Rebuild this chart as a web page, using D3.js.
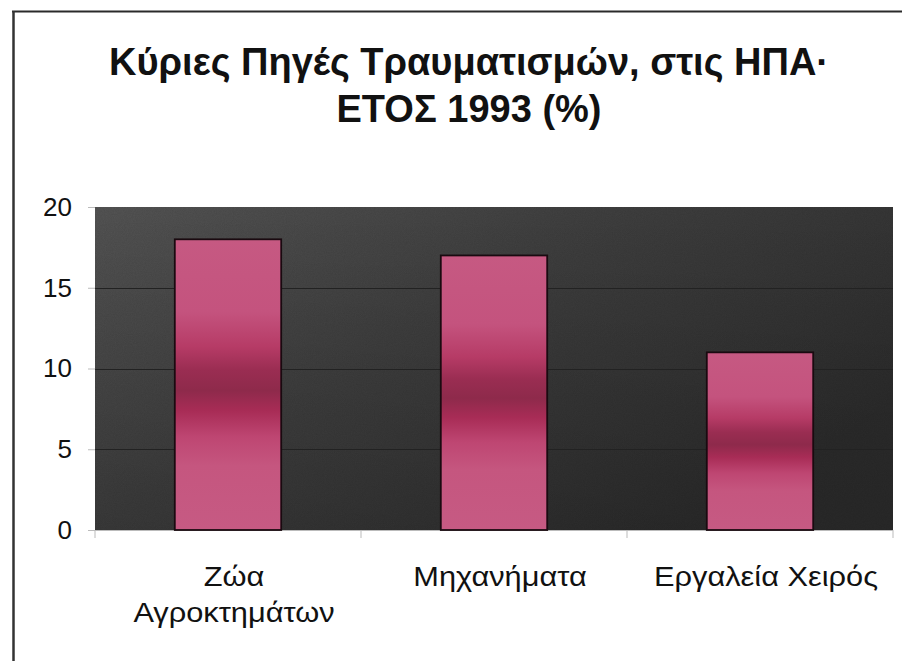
<!DOCTYPE html>
<html>
<head>
<meta charset="utf-8">
<script src="https://cdn.jsdelivr.net/npm/d3@7"></script>
<style>
  html, body { margin: 0; padding: 0; background: #ffffff; }
  svg { display: block; font-family: "Liberation Sans", Arial, sans-serif; }
</style>
</head>
<body>
<svg id="chart" width="902" height="661"></svg>
<script>
// ---- data ----
const titleLines = ["Κύριες Πηγές Τραυματισμών, στις ΗΠΑ·", "ΕΤΟΣ 1993 (%)"];
const categories = ["Ζώα Αγροκτημάτων", "Μηχανήματα", "Εργαλεία Χειρός"];
const values = [18, 17, 11];
const yTicks = [0, 5, 10, 15, 20];

// ---- layout ----
const W = 902, H = 661;
const plot = { left: 95, right: 893, top: 207, bottom: 530 };

const svg = d3.select("#chart");
const defs = svg.append("defs");

// plot background gradient
const bg = defs.append("linearGradient").attr("id", "bgGrad")
  .attr("x1", "0").attr("y1", "0").attr("x2", "1").attr("y2", "0.6");
bg.append("stop").attr("offset", "0%").attr("stop-color", "#555555");
bg.append("stop").attr("offset", "45%").attr("stop-color", "#414141");
bg.append("stop").attr("offset", "100%").attr("stop-color", "#2e2e2e");

const bg2 = defs.append("linearGradient").attr("id", "bgGradV")
  .attr("x1", "0").attr("y1", "0").attr("x2", "0").attr("y2", "1");
bg2.append("stop").attr("offset", "0%").attr("stop-color", "#000").attr("stop-opacity", 0);
bg2.append("stop").attr("offset", "100%").attr("stop-color", "#000").attr("stop-opacity", 0.12);

// bar gradient
const bar = defs.append("linearGradient").attr("id", "barGrad")
  .attr("x1", "0").attr("y1", "0").attr("x2", "0").attr("y2", "1");
[["0%", "#c65982"], ["25%", "#c4537e"], ["37%", "#b63b66"], ["45%", "#9a2d52"],
 ["52%", "#8e2a4b"], ["59%", "#a82c56"], ["68%", "#be4672"], ["78%", "#c5567f"], ["100%", "#c65a83"]]
  .forEach(([o, c]) => bar.append("stop").attr("offset", o).attr("stop-color", c));

// grain texture
const f = defs.append("filter").attr("id", "grain").attr("x", 0).attr("y", 0).attr("width", 1).attr("height", 1);
f.append("feTurbulence").attr("type", "fractalNoise").attr("baseFrequency", 0.9).attr("numOctaves", 2).attr("result", "n");
f.append("feColorMatrix").attr("type", "matrix")
  .attr("values", "0 0 0 0 0  0 0 0 0 0  0 0 0 0 0  0 0 0 0.12 0");

// frame lines
svg.append("line").attr("x1", 12).attr("x2", W).attr("y1", 11.5).attr("y2", 11.5)
  .attr("stroke", "#2a2a2a").attr("stroke-width", 2);
svg.append("line").attr("x1", 13.5).attr("x2", 13.5).attr("y1", 11).attr("y2", H)
  .attr("stroke", "#333").attr("stroke-width", 2.5);

// title
svg.append("text")
  .attr("x", 469).attr("y", 75)
  .attr("text-anchor", "middle")
  .attr("font-size", 38).attr("font-weight", "bold").attr("fill", "#111")
  .selectAll("tspan").data(titleLines).join("tspan")
  .attr("x", 469).attr("dy", (d, i) => i === 0 ? 0 : 47)
  .text(d => d);

// scales
const x = d3.scaleBand().domain(categories).range([plot.left, plot.right]).padding(0);
const y = d3.scaleLinear().domain([0, 20]).range([plot.bottom, plot.top]);

// plot background
svg.append("rect").attr("x", plot.left).attr("y", plot.top)
  .attr("width", plot.right - plot.left).attr("height", plot.bottom - plot.top)
  .attr("fill", "url(#bgGrad)");
svg.append("rect").attr("x", plot.left).attr("y", plot.top)
  .attr("width", plot.right - plot.left).attr("height", plot.bottom - plot.top)
  .attr("fill", "url(#bgGradV)");
svg.append("rect").attr("x", plot.left).attr("y", plot.top)
  .attr("width", plot.right - plot.left).attr("height", plot.bottom - plot.top)
  .attr("filter", "url(#grain)");

// gridlines
svg.append("g").selectAll("line").data(yTicks.filter(t => t > 0 && t < 20)).join("line")
  .attr("x1", plot.left).attr("x2", plot.right)
  .attr("y1", d => Math.round(y(d)) + 0.5).attr("y2", d => Math.round(y(d)) + 0.5)
  .attr("stroke", "#222").attr("stroke-width", 1.2);

// y axis
const yAxis = svg.append("g").attr("transform", `translate(${plot.left},0)`)
  .call(d3.axisLeft(y).tickValues(yTicks).tickSize(7).tickPadding(16));
yAxis.select(".domain").remove();
yAxis.selectAll(".tick line").attr("stroke", "#bbb");
yAxis.selectAll(".tick text").attr("font-size", 26).attr("fill", "#111")
  .attr("font-family", "Liberation Sans, Arial, sans-serif");

// x axis
const xAxis = svg.append("g").attr("transform", `translate(0,${plot.bottom})`);
xAxis.append("line").attr("x1", plot.left).attr("x2", plot.right)
  .attr("y1", 0.5).attr("y2", 0.5).attr("stroke", "#bbb");
const boundaries = categories.map(c => x(c)).concat([x(categories[categories.length - 1]) + x.bandwidth()]);
xAxis.selectAll(".xt").data(boundaries).join("line").attr("class", "xt")
  .attr("x1", d => d).attr("x2", d => d).attr("y1", 0).attr("y2", 8)
  .attr("stroke", "#bbb");

// bars
const barW = x.bandwidth() * 0.4;
svg.append("g").selectAll("rect").data(values).join("rect")
  .attr("x", (d, i) => x(categories[i]) + (x.bandwidth() - barW) / 2)
  .attr("y", d => y(d))
  .attr("width", barW)
  .attr("height", d => y(0) - y(d))
  .attr("fill", "url(#barGrad)")
  .attr("stroke", "#1a0a10").attr("stroke-width", 1.8);

// category labels (wrapped)
const labels = svg.append("g").selectAll("text").data(categories).join("text")
  .attr("text-anchor", "middle").attr("font-size", 27).attr("fill", "#111")
  .attr("transform", d => `translate(${x(d) + x.bandwidth() / 2 + 6},586) scale(1.14,1)`);
labels.each(function (d) {
  const t = d3.select(this);
  const words = d.split(" ");
  let lines = [], cur = [];
  const tmp = t.append("tspan");
  words.forEach(w => {
    cur.push(w);
    tmp.text(cur.join(" "));
    if (tmp.node().getComputedTextLength() > 212 && cur.length > 1) {
      cur.pop(); lines.push(cur.join(" ")); cur = [w];
    }
  });
  lines.push(cur.join(" "));
  tmp.remove();
  t.selectAll("tspan").data(lines).join("tspan")
    .attr("x", 0).attr("dy", (l, i) => i === 0 ? 0 : 36).text(l => l);
});
</script>
</body>
</html>
